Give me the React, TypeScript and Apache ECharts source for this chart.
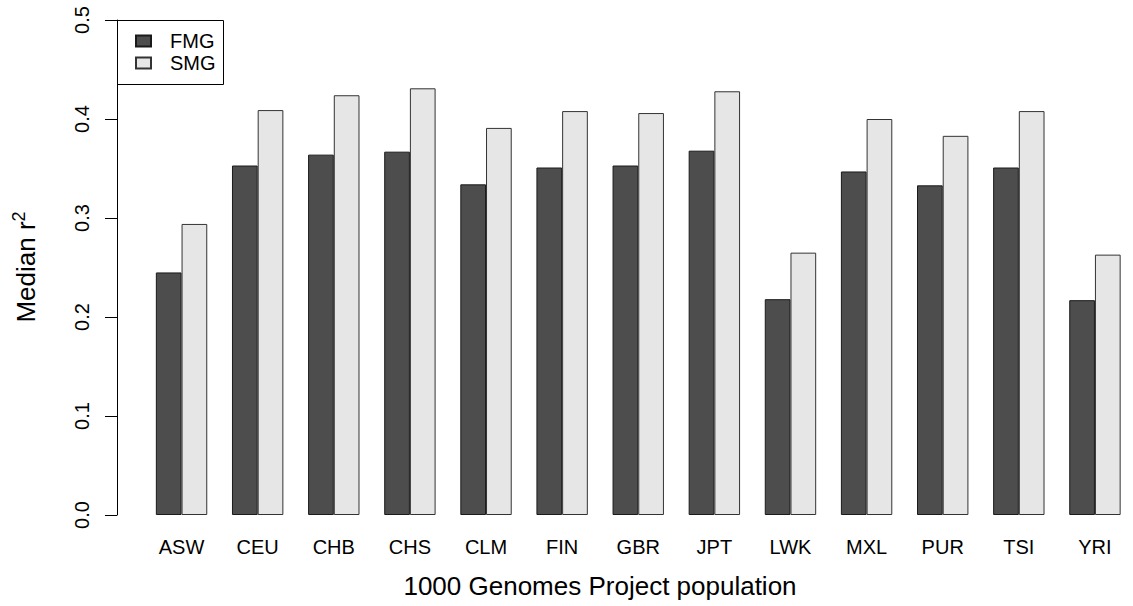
import React, { useEffect, useRef } from "react";
import * as echarts from "echarts";

const categories = ["ASW", "CEU", "CHB", "CHS", "CLM", "FIN", "GBR", "JPT", "LWK", "MXL", "PUR", "TSI", "YRI"];
const fmgValues = [0.245, 0.353, 0.364, 0.367, 0.334, 0.351, 0.353, 0.368, 0.218, 0.347, 0.333, 0.351, 0.217];
const smgValues = [0.294, 0.409, 0.424, 0.431, 0.391, 0.408, 0.406, 0.428, 0.265, 0.400, 0.383, 0.408, 0.263];
const seriesNames = ["FMG", "SMG"];
const yTicks = { min: 0, max: 0.5, interval: 0.1 };

const FONT = "'Liberation Sans', Arial, Helvetica, sans-serif";

export default function App() {
  const ref = useRef<HTMLDivElement>(null);
  useEffect(() => {
    if (!ref.current) return;
    const chart = echarts.init(ref.current, null, { renderer: "svg" });
    chart.setOption({
      animation: false,
      backgroundColor: "#ffffff",
      textStyle: { fontFamily: FONT },
      grid: { left: 143.5, top: 20, width: 1001, height: 495 },
      legend: {
        orient: "vertical",
        left: 135,
        top: 31,
        icon: "rect",
        itemWidth: 15,
        itemHeight: 11,
        itemGap: 2,
        padding: 0,
        data: seriesNames,
        textStyle: { fontSize: 20, color: "#000", fontFamily: FONT, padding: [0, 0, 0, 14] },
      },
      xAxis: {
        type: "category",
        data: categories,
        axisLine: { show: false },
        axisTick: { show: false },
        axisLabel: { fontSize: 20, color: "#000", margin: 22, fontFamily: FONT },
      },
      yAxis: {
        type: "value",
        min: yTicks.min,
        max: yTicks.max,
        interval: yTicks.interval,
        offset: 26.5,
        splitLine: { show: false },
        axisLine: { show: true, lineStyle: { color: "#000", width: 1 } },
        axisTick: { show: true, length: 12, lineStyle: { color: "#000", width: 1 } },
        axisLabel: {
          fontSize: 20,
          color: "#000",
          rotate: 90,
          margin: 25,
          fontFamily: FONT,
          formatter: (v: number) => v.toFixed(1),
        },
      },
      series: [
        {
          name: seriesNames[0],
          type: "bar",
          data: fmgValues,
          barWidth: 25.7,
          barGap: "0%",
          itemStyle: { color: "#4d4d4d", borderColor: "#1a1a1a", borderWidth: 1 },
        },
        {
          name: seriesNames[1],
          type: "bar",
          data: smgValues,
          barWidth: 25.7,
          barGap: "0%",
          itemStyle: { color: "#e6e6e6", borderColor: "#333333", borderWidth: 1 },
        },
      ],
      graphic: [
        {
          type: "rect",
          shape: { x: 117.5, y: 20.5, width: 106, height: 64 },
          style: { fill: "none", stroke: "#000", lineWidth: 1 },
          z: 10,
        },
        {
          type: "text",
          x: 600,
          y: 586,
          style: {
            text: "1000 Genomes Project population",
            fontSize: 26,
            fontFamily: FONT,
            fill: "#000",
            align: "center",
            verticalAlign: "middle",
          },
        },
        {
          type: "text",
          x: 26,
          y: 267,
          rotation: Math.PI / 2,
          style: {
            text: "Median r{sup|2}",
            fontSize: 26,
            fontFamily: FONT,
            fill: "#000",
            align: "center",
            verticalAlign: "middle",
            rich: {
              sup: { fontSize: 18, fontFamily: FONT, fill: "#000", verticalAlign: "top", padding: [0, 0, 14, 0] },
            },
          },
        },
      ],
    });
    return () => chart.dispose();
  }, []);
  return (
    <div
      ref={ref}
      style={{ position: "fixed", left: 0, top: 0, width: 1133, height: 606, background: "#fff" }}
    />
  );
}
